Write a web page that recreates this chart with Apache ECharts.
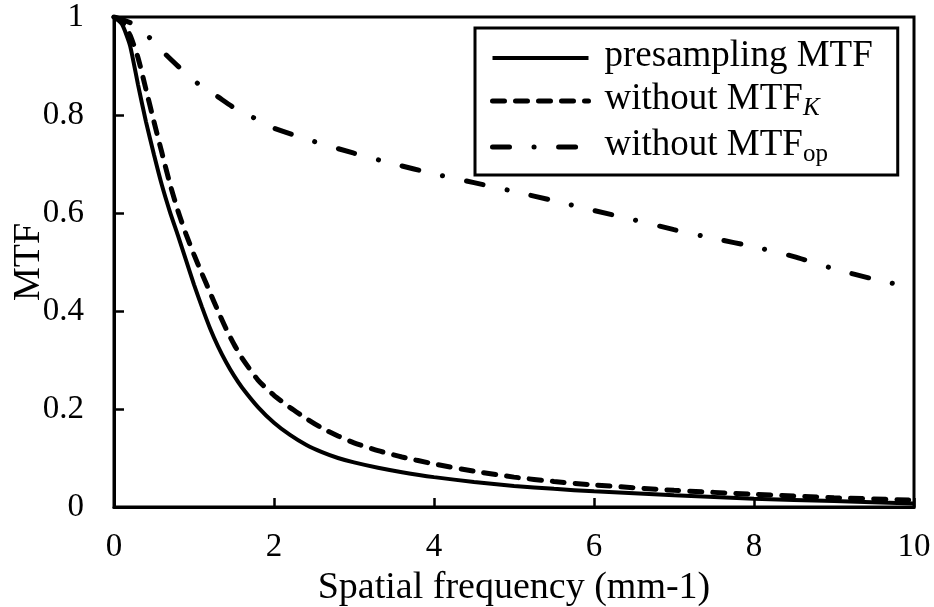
<!DOCTYPE html>
<html>
<head>
<meta charset="utf-8">
<script src="https://cdn.jsdelivr.net/npm/echarts@6/dist/echarts.min.js"></script>
<style>
html,body{margin:0;padding:0;background:#fff;}
#chart{width:934px;height:607px;}
</style>
</head>
<body>
<div id="chart"></div>
<script>
// Spatial frequency samples (mm-1)
var freq = [0, 0.1, 0.2, 0.3, 0.4, 0.5, 0.6, 0.7, 0.8, 0.9, 1.0, 1.1, 1.2, 1.3, 1.4, 1.5, 1.6, 1.8, 2.0, 2.2, 2.4, 2.6, 2.8, 3.0, 3.3, 3.6, 4, 4.5, 5, 5.5, 6, 7, 8, 9, 10];
var presampling = [1, 0.985, 0.942, 0.862, 0.786, 0.719, 0.656, 0.602, 0.554, 0.504, 0.454, 0.408, 0.365, 0.328, 0.296, 0.268, 0.244, 0.204, 0.172, 0.147, 0.127, 0.112, 0.1, 0.091, 0.08, 0.071, 0.061, 0.051, 0.043, 0.037, 0.032, 0.024, 0.017, 0.012, 0.007];
var withoutK = [1, 0.99, 0.963, 0.917, 0.852, 0.786, 0.722, 0.659, 0.604, 0.557, 0.515, 0.476, 0.438, 0.4, 0.364, 0.332, 0.304, 0.259, 0.228, 0.203, 0.181, 0.161, 0.145, 0.131, 0.115, 0.102, 0.088, 0.073, 0.061, 0.052, 0.045, 0.034, 0.026, 0.019, 0.014];
var freqOp = [0, 0.25, 0.45, 0.65, 0.85, 1.05, 1.3, 1.5, 1.75, 2, 2.5, 3, 3.5, 4, 4.5, 5, 5.5, 6, 6.5, 7, 7.5, 8, 8.5, 9, 9.5, 10];
var withoutOp = [1, 0.985, 0.957, 0.923, 0.892, 0.864, 0.837, 0.815, 0.794, 0.773, 0.746, 0.722, 0.70, 0.68, 0.662, 0.644, 0.625, 0.605, 0.586, 0.566, 0.548, 0.531, 0.511, 0.486, 0.465, 0.447];
var xTicks = [0, 2, 4, 6, 8, 10];
var yTicks = [0, 0.2, 0.4, 0.6, 0.8, 1];
var seriesNames = ['presampling MTF', 'without MTF_K', 'without MTF_op'];

function pairs(xs, ys) { return xs.map(function (x, i) { return [x, ys[i]]; }); }

var FONT = 'Liberation Serif';
var styles = [
  {color: '#000', width: 4, type: 'solid', cap: 'butt'},
  {color: '#000', width: 5, type: [12, 11], cap: 'round'},
  {color: '#000', width: 5, type: [17, 24.5, 0.1, 24.5], cap: 'round'}
];
var chart = echarts.init(document.getElementById('chart'), null, {renderer: 'canvas'});
chart.setOption({
  animation: false,
  backgroundColor: '#fff',
  grid: {left: 114, top: 17, right: 20, bottom: 100, outerBoundsMode: 'none', containLabel: false,
         show: true, borderColor: '#000', borderWidth: 3, backgroundColor: 'transparent'},
  xAxis: {
    type: 'value', min: xTicks[0], max: xTicks[xTicks.length - 1], interval: 2,
    name: 'Spatial frequency (mm-1)', nameLocation: 'middle', nameGap: 53,
    nameTextStyle: {fontFamily: FONT, fontSize: 38, color: '#000'},
    axisLine: {lineStyle: {color: '#000', width: 3}},
    axisTick: {inside: true, length: 9, lineStyle: {color: '#000', width: 2.5}},
    axisLabel: {margin: 24, fontFamily: FONT, fontSize: 33, color: '#000'},
    splitLine: {show: false}
  },
  yAxis: {
    type: 'value', min: yTicks[0], max: yTicks[yTicks.length - 1], interval: 0.2,
    name: 'MTF', nameLocation: 'middle', nameGap: 66, nameRotate: 90, nameMoveOverlap: false,
    nameTextStyle: {fontFamily: FONT, fontSize: 38, color: '#000'},
    axisLine: {lineStyle: {color: '#000', width: 3}},
    axisTick: {inside: true, length: 10, lineStyle: {color: '#000', width: 2.5}},
    axisLabel: {margin: 30, fontFamily: FONT, fontSize: 33, color: '#000'},
    splitLine: {show: false}
  },
  legend: {
    orient: 'vertical', left: 475, top: 28,
    padding: [10, 25, 8, 15],
    itemWidth: 96, itemHeight: 14, itemGap: 1,
    backgroundColor: '#fff', borderColor: '#000', borderWidth: 3,
    itemStyle: {opacity: 0},
    data: seriesNames.map(function (n, i) {
      return {name: n, itemStyle: {opacity: 0}, lineStyle: styles[i]};
    }),
    formatter: function (name) {
      if (name === 'without MTF_K') return '{n|without MTF}{k|K}';
      if (name === 'without MTF_op') return '{n|without MTF}{s|op}';
      return '{n|' + name + '}';
    },
    textStyle: {
      color: '#000', fontFamily: FONT, fontSize: 37,
      rich: {
        n: {fontFamily: FONT, fontSize: 37, lineHeight: 40, color: '#000', padding: [0, 0, 0, 11], verticalAlign: 'top'},
        k: {fontFamily: FONT, fontSize: 25, fontStyle: 'italic', lineHeight: 24, color: '#000', padding: [20, 0, 0, 0], verticalAlign: 'bottom'},
        s: {fontFamily: FONT, fontSize: 25, lineHeight: 24, color: '#000', padding: [20, 0, 0, 0], verticalAlign: 'bottom'}
      }
    }
  },
  series: [
    {
      name: seriesNames[0], type: 'line', showSymbol: false, symbol: 'none', symbolSize: 0,
      smooth: 0.2,
      data: pairs(freq, presampling),
      lineStyle: styles[0], itemStyle: {color: '#000'}, z: 3
    },
    {
      name: seriesNames[1], type: 'line', showSymbol: false, symbol: 'none', symbolSize: 0,
      smooth: 0.2,
      data: pairs(freq, withoutK),
      lineStyle: styles[1], itemStyle: {color: '#000'}, z: 3
    },
    {
      name: seriesNames[2], type: 'line', showSymbol: false, symbol: 'none', symbolSize: 0,
      smooth: 0.2,
      data: pairs(freqOp, withoutOp),
      lineStyle: styles[2], itemStyle: {color: '#000'}, z: 3
    }
  ]
});
</script>
</body>
</html>
